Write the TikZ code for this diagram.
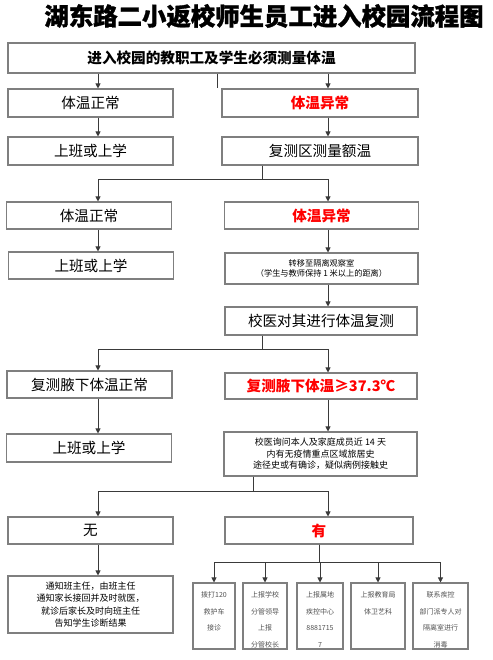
\documentclass[tikz,border=0pt]{standalone}
\usepackage{fontspec}
\setmainfont{Noto Sans CJK SC}
\newfontfamily\heavyfont[BoldFeatures={FakeBold=1.2}]{Noto Sans CJK SC}
\usepackage{xcolor}
\usetikzlibrary{arrows.meta,positioning}
\definecolor{framegray}{HTML}{7F7F7F}
\definecolor{linegray}{HTML}{3A3A3A}
\definecolor{alertred}{HTML}{FF0000}
\definecolor{notegray}{HTML}{505050}
\newcommand{\fs}[2]{\fontsize{#1}{#2}\selectfont}
\newcommand{\cell}[2]{\parbox[c][66pt][t]{#1}{\vspace*{9pt}\centering\fs{7}{16.5}\color{notegray}#2}}

\begin{document}
\begin{tikzpicture}[
  x=1pt,y=-1pt,
  box/.style={draw=framegray,line width=1.1pt,inner sep=0pt,align=center,
              font=\fs{14.6}{18}},
  lbox/.style={box,minimum width=165pt,minimum height=28pt},
  rbox/.style={box,minimum width=194pt,minimum height=28pt},
  warn/.style={text=alertred,font=\bfseries\fs{14.6}{18}},
  small/.style={box,minimum height=66pt},
  ar/.style={-{Triangle[length=5pt,width=5pt]},linegray,line width=0.8pt}
]
\useasboundingbox (0,0) rectangle (492,660);
\node[font=\heavyfont\bfseries\fs{24.4}{26}] (title) at (264,16) {湖东路二小返校师生员工进入校园流程图};

\node[box,minimum width=407pt,minimum height=30pt,font=\bfseries\fs{14.6}{18}]
  (top) at (211.5,58) {进入校园的教职工及学生必须测量体温};

\node[lbox]      (n1) at (90.5,103) {体温正常};
\node[rbox,warn,minimum width=196pt] (a1) at (320,103) {体温异常};
\node[lbox]      (g1) at (90.5,151) {上班或上学};
\node[rbox,minimum width=196pt] (r1) at (320,151) {复测区测量额温};

\node[lbox,minimum height=27pt] (n2) at (89,215.5) {体温正常};
\node[rbox,warn,minimum height=27pt] (a2) at (321.5,215.5) {体温异常};
\node[lbox,minimum height=27pt] (g2) at (91,265.5) {上班或上学};
\node[rbox,minimum width=193pt,minimum height=31pt,font=\fs{8.2}{10.5}]
  (iso) at (321.5,268.5) {转移至隔离观察室\\（学生与教师保持 1 米以上的距离）};
\node[rbox,minimum width=192pt] (doc) at (321,321) {校医对其进行体温复测};

\node[lbox,minimum height=27pt] (n3) at (89.5,384.5) {复测腋下体温正常};
\node[rbox,warn,minimum width=192pt,minimum height=26pt] (a3) at (321,386) {复测腋下体温≥37.3℃};
\node[lbox] (g3) at (89,448) {上班或上学};
\node[rbox,minimum width=193pt,minimum height=44pt,font=\fs{9}{11.5}]
  (ask) at (320.5,454) {校医询问本人及家庭成员近 14 天\\内有无疫情重点区域旅居史\\途径史或有确诊，疑似病例接触史};

\node[lbox,minimum height=27pt] (no)  at (90.5,530.5) {无};
\node[rbox,warn,minimum width=188pt,minimum height=27pt] (yes) at (319,530.5) {有};
\node[lbox,minimum height=57pt,font=\fs{9}{12.5}]
  (notify) at (90.5,604.5) {通知班主任，由班主任\\通知家长接回并及时就医，\\就诊后家长及时向班主任\\告知学生诊断结果};

\node[small,minimum width=42pt] (b1) at (214,616)   {\cell{42pt}{拨打120\\救护车\\接诊}};
\node[small,minimum width=44pt] (b2) at (265,616)   {\cell{44pt}{上报学校\\分管领导\\上报\\分管校长}};
\node[small,minimum width=46pt] (b3) at (320,616)   {\cell{46pt}{上报属地\\疾控中心\\8881715\\7}};
\node[small,minimum width=54pt] (b4) at (378,616)   {\cell{54pt}{上报教育局\\体卫艺科}};
\node[small,minimum width=55pt] (b5) at (440.5,616) {\cell{55pt}{联系疾控\\部门派专人对\\隔离室进行\\消毒}};

\coordinate (L) at (98,0);
\coordinate (R) at (328,0);
\coordinate (M) at (262,0);
\coordinate (A) at (253,0);
\coordinate (stub) at (217,88);

\draw[ar] (top.south -| L) -- (n1.north -| L);
\draw[ar] (top.south -| R) -- (a1.north -| R);
\draw[linegray,line width=0.8pt] (top.south -| stub) -- (stub);
\draw[ar] (n1.south -| L) -- (g1.north -| L);
\draw[ar] (a1.south -| R) -- (r1.north -| R);
\draw[ar] (r1.south -| M) -- ++(0,14) -| (n2.north -| L);
\draw[ar] (r1.south -| M) -- ++(0,14) -| (a2.north -| R);
\draw[ar] (n2.south -| L) -- (g2.north -| L);
\draw[ar] (a2.south -| R) -- (iso.north -| R);
\draw[ar] (iso.south -| R) -- (doc.north -| R);
\draw[ar] (doc.south -| M) -- ++(0,14) -| (n3.north -| L);
\draw[ar] (doc.south -| M) -- ++(0,14) -| (a3.north -| R);
\draw[ar] (n3.south -| L) -- (g3.north -| L);
\draw[ar] (a3.south -| R) -- (ask.north -| R);
\draw[ar] (ask.south -| A) -- ++(0,15) -| (no.north -| L);
\draw[ar] (ask.south -| A) -- ++(0,15) -| (yes.north -| R);
\draw[ar] (no.south -| L) -- (notify.north -| L);
\foreach \b in {b1,b2,b3,b4,b5}
  \draw[ar] (yes.south) -- ++(0,18) -| (\b.north);
\end{tikzpicture}
\end{document}
